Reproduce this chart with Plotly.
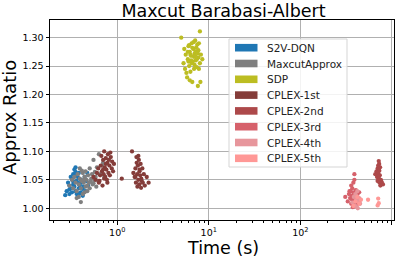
import plotly.graph_objects as go

# ---------------- data ----------------
s2v_x = [0.27,0.28,0.29,0.30,0.30,0.31,0.31,0.32,0.32,0.33,0.33,0.34,0.34,0.35,0.35,0.36,0.36,0.37,0.37,0.38,
         0.38,0.39,0.40,0.40,0.41,0.42,0.43,0.44,0.45,0.46,0.47,0.48,0.30,0.33,0.36,0.39,0.42,0.35,0.32,0.38]
s2v_y = [1.023,1.030,1.045,1.040,1.025,1.055,1.035,1.050,1.028,1.060,1.042,1.068,1.038,1.030,1.072,1.048,1.025,1.055,1.020,1.035,
         1.062,1.040,1.028,1.050,1.045,1.022,1.038,1.055,1.030,1.048,1.062,1.040,1.033,1.047,1.058,1.026,1.034,1.064,1.052,1.044]

mca_x = [0.30,0.32,0.33,0.34,0.35,0.36,0.37,0.38,0.38,0.39,0.40,0.40,0.41,0.42,0.42,0.43,0.44,0.45,0.45,0.46,
         0.47,0.48,0.49,0.50,0.50,0.52,0.53,0.54,0.55,0.56,0.57,0.58,0.60,0.62,0.63,0.65,0.68,0.70,0.72,0.36,
         0.41,0.44,0.47,0.51,0.55,0.59,0.39,0.43]
mca_y = [1.040,1.050,1.035,1.055,1.045,1.030,1.060,1.042,1.020,1.052,1.035,1.011,1.048,1.062,1.025,1.045,1.055,1.038,1.065,1.050,
         1.030,1.058,1.045,1.070,1.035,1.052,1.060,1.042,1.085,1.050,1.064,1.055,1.072,1.048,1.095,1.060,1.075,1.080,1.055,1.018,
         1.066,1.028,1.040,1.047,1.044,1.038,1.070,1.050]

sdp_x = [5.0,5.3,5.5,5.6,5.8,5.9,6.0,6.1,6.2,6.3,6.4,6.5,6.6,6.7,6.8,6.9,7.0,7.1,7.2,7.3,
         7.4,7.5,7.6,7.7,7.8,8.0,8.2,8.5,5.4,5.7,6.0,6.3,6.6,6.9,7.2,7.5,7.8,8.1,6.2,6.8,
         7.4,5.9,6.5,7.1,7.7,8.0,6.1,7.0,7.6,6.4]
sdp_y = [1.300,1.255,1.245,1.270,1.230,1.262,1.285,1.250,1.275,1.240,1.268,1.290,1.222,1.258,1.280,1.245,1.272,1.295,1.260,1.283,
         1.248,1.276,1.215,1.265,1.290,1.255,1.270,1.262,1.280,1.238,1.258,1.270,1.282,1.266,1.276,1.288,1.245,1.222,1.225,1.292,
         1.262,1.275,1.255,1.268,1.278,1.311,1.287,1.252,1.272,1.260]

c1_x = [0.55,0.58,0.60,0.62,0.63,0.65,0.66,0.68,0.69,0.70,0.71,0.72,0.73,0.74,0.75,0.76,0.77,0.78,0.79,0.80,
        0.82,0.83,0.85,0.87,0.88,0.90,0.92,0.64,0.67,0.72,0.78,0.84,0.70,0.75,0.81,
        1.12,1.45,1.50,1.55,1.58,1.60,1.62,1.65,1.66,1.68,1.70,1.72,1.74,1.75,1.78,1.80,1.82,1.85,1.88,1.90,
        1.95,2.00,2.10,2.20,1.63,1.70,1.76,1.58,1.83]
c1_y = [1.055,1.050,1.062,1.070,1.045,1.058,1.075,1.065,1.040,1.085,1.060,1.100,1.072,1.055,1.088,1.068,1.050,1.080,1.095,1.062,
        1.075,1.058,1.090,1.070,1.082,1.065,1.078,1.048,1.092,1.052,1.045,1.098,1.068,1.078,1.085,
        1.052,1.100,1.062,1.055,1.070,1.045,1.090,1.060,1.038,1.075,1.050,1.085,1.042,1.065,1.058,1.078,1.036,1.048,1.070,1.045,
        1.060,1.040,1.055,1.045,1.080,1.092,1.068,1.055,1.052]

c2_x = [660,680,690,700,700,710,715,720,725,730,735,740,745,750,760,770,780,800,705,728]
c2_y = [1.060,1.065,1.055,1.070,1.048,1.075,1.060,1.083,1.052,1.066,1.045,1.058,1.072,1.040,1.050,1.047,1.044,1.042,1.062,1.078]

c3_x = [310,330,340,350,355,360,365,370,375,380,385,390,395,400,405,410,415,420,430,440,450,360,375,390,345,365,385,405]
c3_y = [1.020,1.012,1.025,1.018,1.030,1.008,1.022,1.035,1.015,1.045,1.028,1.060,1.010,1.020,1.032,1.005,1.018,1.024,1.012,1.028,
        1.015,1.040,1.002,1.050,1.030,1.016,1.026,1.008]

c4_x = [370,385,395,400,410,415,420,430,440,450,405,425]
c4_y = [1.010,1.020,1.005,1.025,1.015,1.002,1.030,1.012,1.018,1.008,1.022,1.000]

c5_x = [400,420,440,460,550,700,710,720,380]
c5_y = [1.012,1.020,1.008,1.015,1.015,1.005,1.017,1.009,1.004]

names = ["S2V-DQN", "MaxcutApprox", "SDP", "CPLEX-1st", "CPLEX-2nd", "CPLEX-3rd", "CPLEX-4th", "CPLEX-5th"]
colors = ["#1f77b4", "#7f7f7f", "#bcbd22", "#843c39", "#ad494a", "#d6616b", "#e7969c", "#ff9896"]
series = [(s2v_x, s2v_y), (mca_x, mca_y), (sdp_x, sdp_y), (c1_x, c1_y),
          (c2_x, c2_y), (c3_x, c3_y), (c4_x, c4_y), (c5_x, c5_y)]

x_tickvals = [1, 10, 100, 1000]
x_ticktext = ["10<sup>0</sup>", "10<sup>1</sup>", "10<sup>2</sup>", "10<sup>3</sup>"]
x_minor = [m * 10 ** e for e in (-1, 0, 1, 2) for m in range(2, 10)]
y_tickvals = [1.00, 1.05, 1.10, 1.15, 1.20, 1.25, 1.30]

FONT = "DejaVu Sans"
W, H = 399, 257
ML, MR, MT, MB = 50, 5, 20, 37
PW, PH = W - ML - MR, H - MT - MB


def px_x(p):
    return (p - ML) / PW


def px_y(p):
    return (H - MB - p) / PH


fig = go.Figure()
for (xs, ys), name, col in zip(series, names, colors):
    fig.add_trace(go.Scatter(x=xs, y=ys, mode="markers", name=name, showlegend=False,
                             marker=dict(color=col, size=4.3, line=dict(width=0))))

# legend (matplotlib-style patches)
shapes = [dict(type="rect", xref="paper", yref="paper",
               x0=px_x(229), x1=px_x(347), y0=px_y(167), y1=px_y(39),
               line=dict(color="#d5d5d5", width=1), fillcolor="rgba(255,255,255,0.85)", layer="above")]
annotations = []
for i, (name, col) in enumerate(zip(names, colors)):
    cy = 47.7 + i * 15.8
    shapes.append(dict(type="rect", xref="paper", yref="paper",
                       x0=px_x(235), x1=px_x(257.5), y0=px_y(cy + 3.8), y1=px_y(cy - 3.8),
                       line=dict(width=0), fillcolor=col, layer="above"))
    annotations.append(dict(text=name, xref="paper", yref="paper", x=px_x(265), y=px_y(cy),
                            xanchor="left", yanchor="middle", showarrow=False,
                            font=dict(size=10.5, family=FONT, color="#222")))

annotations.append(dict(text="Approx Ratio", xref="paper", yref="paper", x=px_x(9), y=0.51,
                        xanchor="center", yanchor="middle", textangle=-90, showarrow=False,
                        font=dict(size=18, family=FONT, color="black")))
annotations.append(dict(text="Time (s)", xref="paper", yref="paper", x=0.503, y=px_y(236),
                        xanchor="center", yanchor="top", showarrow=False,
                        font=dict(size=17.5, family=FONT, color="black")))

fig.update_layout(
    width=W, height=H,
    margin=dict(l=ML, r=MR, t=MT, b=MB),
    paper_bgcolor="white", plot_bgcolor="white",
    font=dict(family=FONT, color="black"),
    title=dict(text="Maxcut Barabasi-Albert", x=px_x(223.5), xref="paper", xanchor="center",
               yref="container", y=1 - 10.5 / H, yanchor="middle", font=dict(size=17.5, family=FONT)),
    showlegend=False,
    shapes=shapes,
    annotations=annotations,
)
fig.update_xaxes(type="log", range=[-0.735, 3.024], automargin=False,
                 tickmode="array", tickvals=x_tickvals, ticktext=x_ticktext,
                 tickfont=dict(size=9.5), ticks="outside", ticklen=3.5, tickcolor="black",
                 showgrid=True, gridcolor="#b0b0b0", gridwidth=1,
                 showline=True, linecolor="black", linewidth=1, mirror=True,
                 minor=dict(tickmode="array", tickvals=x_minor, ticks="outside", ticklen=2,
                            tickcolor="black", showgrid=False),
                 zeroline=False)
fig.update_yaxes(range=[0.9794, 1.331], automargin=False,
                 tickmode="array", tickvals=y_tickvals, tickformat=".2f",
                 tickfont=dict(size=9.5), ticks="outside", ticklen=3.5, tickcolor="black",
                 showgrid=True, gridcolor="#b0b0b0", gridwidth=1,
                 showline=True, linecolor="black", linewidth=1, mirror=True,
                 zeroline=False)

fig.write_html("out.html", config={"displayModeBar": False},
               post_script="document.body.style.margin='0';document.body.style.overflow='hidden';")
